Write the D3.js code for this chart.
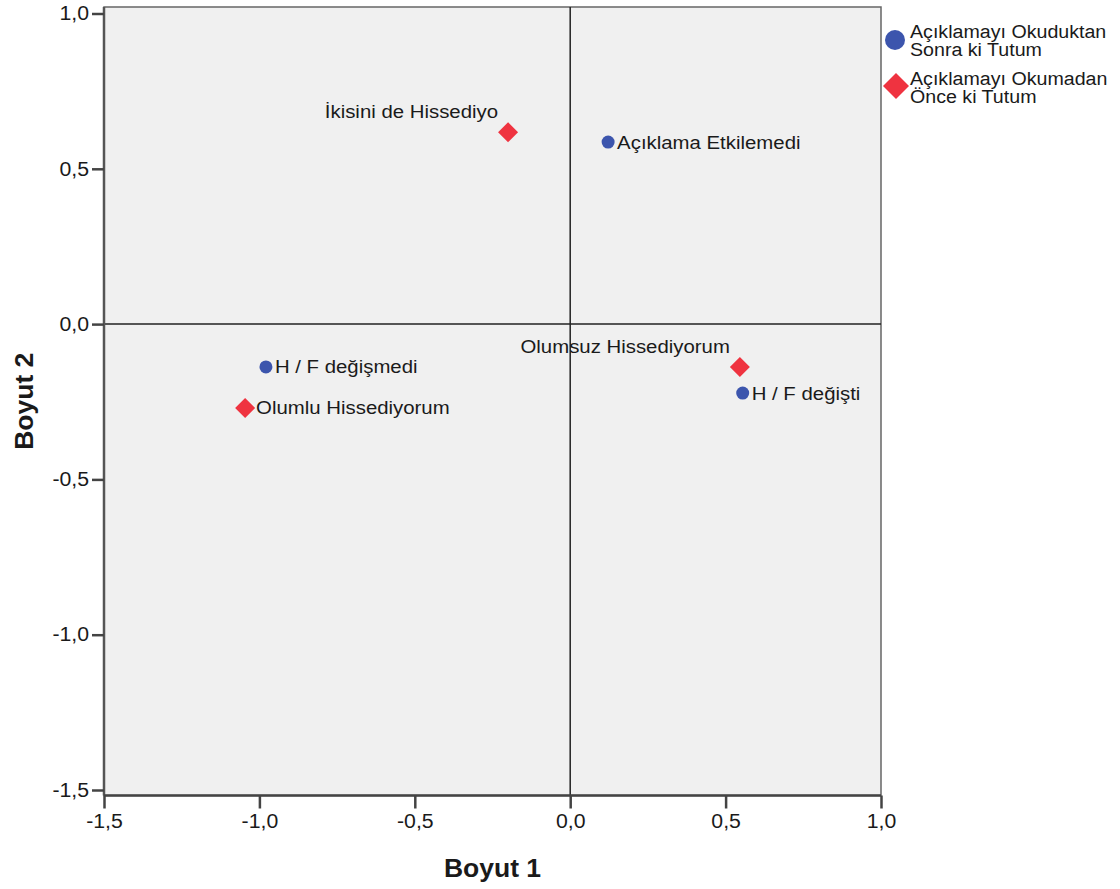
<!DOCTYPE html>
<html>
<head>
<meta charset="utf-8">
<script src="https://cdn.jsdelivr.net/npm/d3@7"></script>
<style>
html,body{margin:0;padding:0;background:#fff;}
svg{display:block;}
text{font-family:"Liberation Sans",Arial,sans-serif;fill:#1a1a1a;}
</style>
</head>
<body>
<svg id="chart" width="1120" height="889"></svg>
<script>
// ---- data ----
const pointLabels = ["Açıklama Etkilemedi","H / F değişmedi","H / F değişti","İkisini de Hissediyo","Olumsuz Hissediyorum","Olumlu Hissediyorum"];
const dim1 = [0.122, -0.979, 0.555, -0.200, 0.546, -1.046];
const dim2 = [0.586, -0.138, -0.222, 0.618, -0.138, -0.270];
const pointGroup = [0, 0, 0, 1, 1, 1];
const groupNames = [["Açıklamayı Okuduktan","Sonra ki Tutum"],["Açıklamayı Okumadan","Önce ki Tutum"]];
const tickValues = [-1.5, -1.0, -0.5, 0.0, 0.5, 1.0];
const axisTitles = ["Boyut 1", "Boyut 2"];

// ---- layout ----
const colors = ["#3c55ad", "#ef3340"];
const labelPlacement = { // "r" = right of mark, "ul" = above-left
  "Açıklama Etkilemedi":"r","H / F değişmedi":"r","H / F değişti":"r",
  "İkisini de Hissediyo":"ul","Olumsuz Hissediyorum":"ul","Olumlu Hissediyorum":"r"
};
const stretch = 1.09; // reference glyphs are slightly wider than Liberation Sans

function widen(sel) {
  sel.each(function() {
    const w = this.getComputedTextLength();
    d3.select(this).attr("textLength", w * stretch).attr("lengthAdjust", "spacingAndGlyphs");
  });
}

const svg = d3.select("#chart");
const x = d3.scaleLinear().domain([-1.5, 1.0]).range([104, 881]);
const y = d3.scaleLinear().domain([-1.5, 1.0]).range([790, 13.5]);

const frameTop = y(1.0) - 6.5, frameBottom = y(-1.5) + 5.5;
const frameLeft = x(-1.5), frameRight = x(1.0);

// background
svg.append("rect")
  .attr("x", frameLeft).attr("y", frameTop)
  .attr("width", frameRight - frameLeft).attr("height", frameBottom - frameTop)
  .attr("fill", "#f0f0f0").attr("stroke", "#666").attr("stroke-width", 1.5);

// zero reference lines
svg.append("line").attr("x1", frameLeft).attr("x2", frameRight)
  .attr("y1", y(0)).attr("y2", y(0)).attr("stroke", "#222").attr("stroke-width", 1.5);
svg.append("line").attr("x1", x(0)).attr("x2", x(0))
  .attr("y1", frameTop).attr("y2", frameBottom).attr("stroke", "#222").attr("stroke-width", 1.5);

const fmt = v => d3.format(".1f")(v).replace(".", ",").replace("−", "-");

// y axis
const yAxis = d3.axisLeft(y).tickValues(tickValues).tickFormat(fmt).tickSize(12).tickPadding(3);
const gy = svg.append("g").attr("transform", `translate(${frameLeft},0)`).call(yAxis);
gy.select(".domain").attr("d", `M0,${frameTop}V${frameBottom}`).attr("stroke", "#555").attr("stroke-width", 2.5);
gy.selectAll(".tick line").attr("stroke", "#444").attr("stroke-width", 2.5);
gy.selectAll(".tick text").style("font-size", "19.5px").attr("fill", "#1a1a1a").attr("font-family", "Liberation Sans, Arial, sans-serif");
widen(gy.selectAll(".tick text"));

// x axis
const xAxis = d3.axisBottom(x).tickValues(tickValues).tickFormat(fmt).tickSize(13).tickPadding(6);
const gx = svg.append("g").attr("transform", `translate(0,${frameBottom})`).call(xAxis);
gx.select(".domain").attr("d", `M${frameLeft},0H${frameRight}`).attr("stroke", "#444").attr("stroke-width", 2.5);
gx.selectAll(".tick line").attr("stroke", "#444").attr("stroke-width", 2.5);
gx.selectAll(".tick text").style("font-size", "19.5px").attr("fill", "#1a1a1a").attr("font-family", "Liberation Sans, Arial, sans-serif");
widen(gx.selectAll(".tick text"));

// axis titles
svg.append("text").attr("x", (frameLeft + frameRight) / 2).attr("y", 877)
  .attr("text-anchor", "middle").style("font-size", "26.5px").style("font-weight", "bold").attr("fill", "#111")
  .text(axisTitles[0]);
svg.append("text").attr("transform", `translate(33,${(frameTop + frameBottom) / 2}) rotate(-90)`)
  .attr("text-anchor", "middle").style("font-size", "26.5px").style("font-weight", "bold").attr("fill", "#111")
  .text(axisTitles[1]);

// marks
const diamond = s => `M0,${-s}L${s},0L0,${s}L${-s},0Z`;
const pts = pointLabels.map((l, i) => ({label: l, d1: dim1[i], d2: dim2[i], g: pointGroup[i]}));
const gp = svg.append("g");
pts.forEach(p => {
  const px = x(p.d1), py = y(p.d2);
  if (p.g === 0) {
    gp.append("circle").attr("cx", px).attr("cy", py).attr("r", 6.5).attr("fill", colors[0]);
  } else {
    gp.append("path").attr("transform", `translate(${px},${py})`).attr("d", diamond(10)).attr("fill", colors[1]);
  }
  const place = labelPlacement[p.label];
  const t = gp.append("text").style("font-size", "18.7px").text(p.label);
  if (place === "r") {
    t.attr("x", px + (p.g === 0 ? 9 : 11)).attr("y", py + 6.5).attr("text-anchor", "start");
  } else {
    t.attr("x", px - 10).attr("y", py - 14).attr("text-anchor", "end");
  }
  widen(t);
});

// legend
const lg = svg.append("g");
lg.append("circle").attr("cx", 895).attr("cy", 40).attr("r", 10).attr("fill", colors[0]);
lg.append("path").attr("transform", "translate(896,86)").attr("d", diamond(13)).attr("fill", colors[1]);
groupNames.forEach((lines, i) => {
  lines.forEach((ln, j) => {
    const t = lg.append("text").attr("x", 910).attr("y", 38 + i * 47 + j * 18)
      .style("font-size", "18px").text(ln);
    widen(t);
  });
});
</script>
</body>
</html>
